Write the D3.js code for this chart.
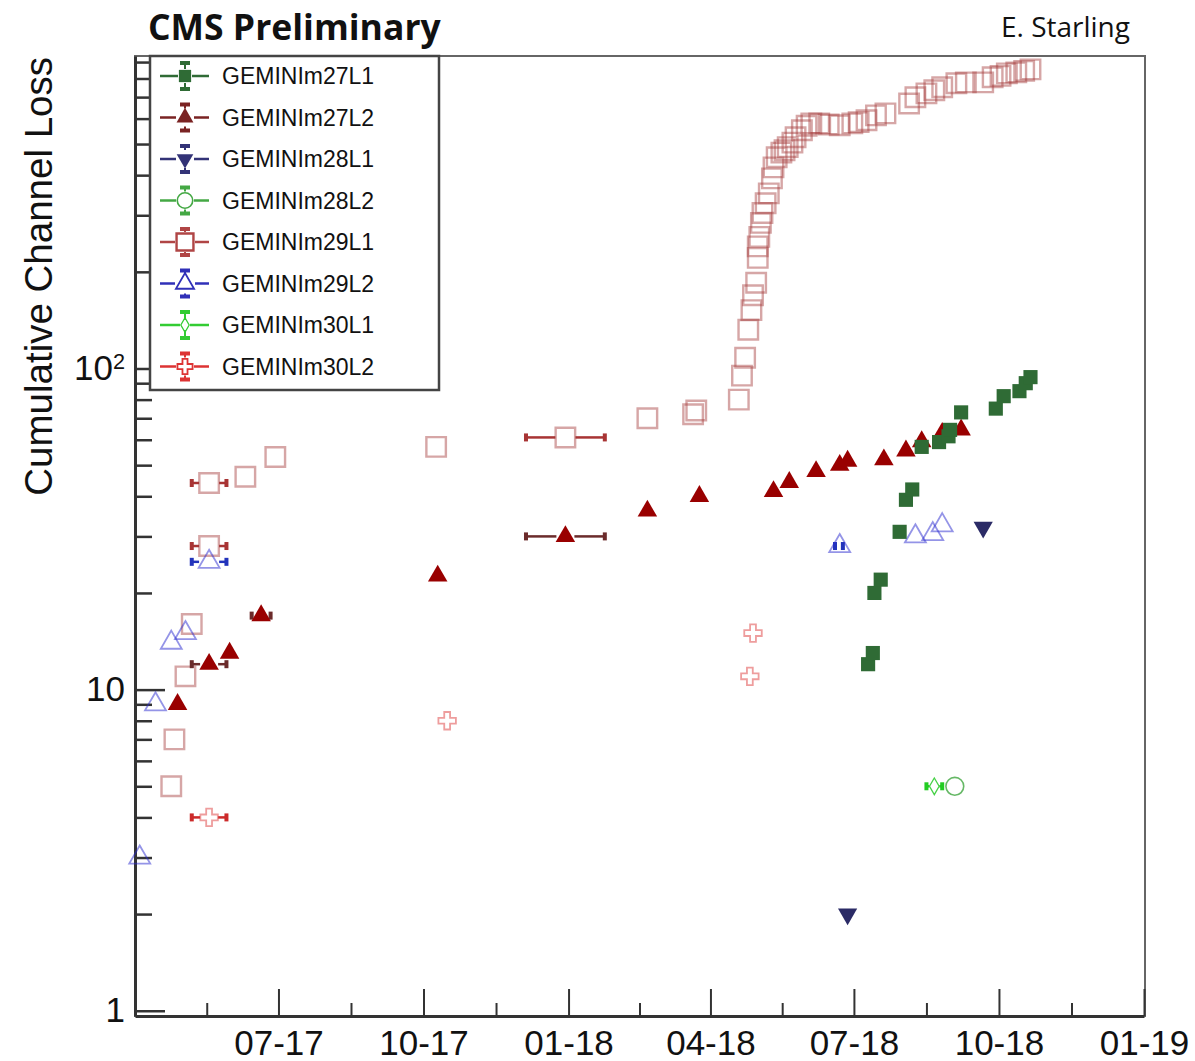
<!DOCTYPE html>
<html>
<head>
<meta charset="utf-8">
<script src="https://cdn.jsdelivr.net/npm/d3@7"></script>
<style>
  body { margin: 0; background: #fff; }
  .chart text { font-family: "Liberation Sans", Arial, sans-serif; fill: #111; }
</style>
</head>
<body>
<div class="chart"></div>
<script>
// series names, as in the legend
const seriesNames = ["GEMINIm27L1", "GEMINIm27L2", "GEMINIm28L1", "GEMINIm28L2",
                     "GEMINIm29L1", "GEMINIm29L2", "GEMINIm30L1", "GEMINIm30L2"];

// [date, cumulative channel loss, optional x-error in days]
const m27L1 = [
  ["2018-07-10", 12], ["2018-07-13", 13], ["2018-07-14", 20], ["2018-07-18", 22],
  ["2018-07-30", 31], ["2018-08-03", 39], ["2018-08-07", 42], ["2018-08-13", 57],
  ["2018-08-24", 59], ["2018-08-30", 61.5], ["2018-08-31", 64.4], ["2018-09-07", 73],
  ["2018-09-29", 75], ["2018-10-04", 82], ["2018-10-14", 85], ["2018-10-18", 90],
  ["2018-10-21", 94]
];
const m27L2 = [
  ["2017-04-28", 9], ["2017-05-18", 12, 11], ["2017-05-31", 13], ["2017-06-20", 17, 6],
  ["2017-10-10", 22.6], ["2017-12-30", 30, 25], ["2018-02-20", 36], ["2018-03-25", 40],
  ["2018-05-11", 41.4], ["2018-05-21", 44.2], ["2018-06-07", 47.8], ["2018-06-22", 50],
  ["2018-06-27", 51.5], ["2018-07-20", 52], ["2018-08-03", 55.4], ["2018-08-13", 59.2],
  ["2018-08-26", 62.9], ["2018-09-07", 64.4]
];
const m28L1 = [["2018-06-27", 2], ["2018-09-21", 32]];
const m28L2 = [["2018-09-03", 5]];
const m29L1 = [
  ["2017-04-24", 5], ["2017-04-26", 7], ["2017-05-03", 11], ["2017-05-07", 16],
  ["2017-05-18", 28, 11], ["2017-05-18", 44, 11], ["2017-06-10", 46], ["2017-06-29", 53],
  ["2017-10-09", 57], ["2017-12-30", 61, 25], ["2018-02-20", 70], ["2018-03-21", 72],
  ["2018-03-23", 74], ["2018-04-19", 80], ["2018-04-21", 95], ["2018-04-23", 108],
  ["2018-04-25", 132], ["2018-04-27", 152], ["2018-04-28", 169], ["2018-04-30", 185],
  ["2018-05-01", 221], ["2018-05-01", 240], ["2018-05-02", 257], ["2018-05-03", 284],
  ["2018-05-04", 305], ["2018-05-06", 327], ["2018-05-08", 351], ["2018-05-10", 391],
  ["2018-05-11", 423], ["2018-05-13", 455], ["2018-05-16", 470], ["2018-05-18", 478],
  ["2018-05-20", 489], ["2018-05-23", 505], ["2018-05-25", 525], ["2018-05-29", 552],
  ["2018-06-01", 570], ["2018-06-04", 580], ["2018-06-09", 580], ["2018-06-15", 575],
  ["2018-06-22", 572], ["2018-06-30", 580], ["2018-07-04", 585], ["2018-07-09", 593],
  ["2018-07-15", 614], ["2018-07-21", 623], ["2018-08-05", 669], ["2018-08-09", 699],
  ["2018-08-16", 719], ["2018-08-21", 735], ["2018-08-26", 751], ["2018-09-04", 773],
  ["2018-09-10", 778], ["2018-09-21", 778], ["2018-09-27", 807], ["2018-10-02", 815],
  ["2018-10-06", 830], ["2018-10-12", 836], ["2018-10-17", 845], ["2018-10-21", 854]
];
const m29L2 = [
  ["2017-04-04", 3], ["2017-04-14", 9], ["2017-04-24", 14], ["2017-05-03", 15],
  ["2017-05-18", 25, 11], ["2018-06-22", 28, 2.5], ["2018-08-09", 30], ["2018-08-20", 30.5],
  ["2018-08-26", 32.5]
];
const m30L1 = [["2018-08-21", 5, 5]];
const m30L2 = [["2017-05-18", 4, 11], ["2017-10-16", 8], ["2018-04-26", 11], ["2018-04-28", 15]];

// axis ticks
const yMajorTicks = [1, 10, 100];
const xTickFormat = "%m-%y";

const width = 1195, height = 1061;
const plotLeft = 135, plotRight = 1144, plotTop = 56, plotBottom = 1016;

const parse = d3.utcParse("%Y-%m-%d");

const x = d3.scaleUtc()
    .domain([new Date(Date.UTC(2017, 3, 1)), new Date(Date.UTC(2019, 0, 1))])
    .range([plotLeft, plotRight]);

const y = d3.scaleLog()
    .domain([0.963, 940])
    .range([plotBottom, plotTop]);

const series = [
  {data: m29L1, shape: d3.symbolSquare, size: 380, half: 10, fill: false, color: "#a33a3a", err: "#a83434", opacity: 0.45, legend: "#b04545", sw: 2.4},
  {data: m29L2, shape: d3.symbolTriangle, size: 190, half: 10, fill: false, color: "#2a2ad0", err: "#2233bb", opacity: 0.5, legend: "#3030b8", sw: 1.8},
  {data: m30L2, shape: d3.symbolCross, size: 170, half: 9, fill: false, color: "#dd3b3b", err: "#cc2a2a", opacity: 0.5, legend: "#dd3333", sw: 1.8},
  {data: m30L1, shape: d3.symbolDiamond, size: 80, half: 5, fill: false, color: "#33cc33", err: "#22cc22", opacity: 0.9, legend: "#33cc33", sw: 1.3},
  {data: m28L2, shape: d3.symbolCircle, size: 250, half: 9, fill: false, color: "#55b055", err: "#44aa44", opacity: 0.9, legend: "#44a844", sw: 1.6},
  {data: m28L1, shape: d3.symbolTriangle, size: 160, half: 9, fill: true, color: "#2b2b66", err: "#2b2b66", opacity: 1, legend: "#333377", sw: 0, down: true},
  {data: m27L2, shape: d3.symbolTriangle, size: 165, half: 9, fill: true, color: "#990000", err: "#6b2b2b", opacity: 1, legend: "#7a2323", sw: 0},
  {data: m27L1, shape: d3.symbolSquare, size: 200, half: 7, fill: true, color: "#2f6b35", err: "#2f6b35", opacity: 1, legend: "#2f6b35", sw: 0}
];
// legend order follows seriesNames
const legendOrder = [7, 6, 5, 4, 0, 1, 3, 2];

const svg = d3.select(".chart").append("svg")
    .attr("width", width)
    .attr("height", height)
    .attr("viewBox", `0 0 ${width} ${height}`);

// frame
svg.append("rect")
    .attr("x", plotLeft).attr("y", plotTop)
    .attr("width", plotRight - plotLeft + 1).attr("height", plotBottom - plotTop)
    .attr("fill", "none")
    .attr("stroke", "#666")
    .attr("stroke-width", 2);

// x axis
const majorX = d3.utcMonths(new Date(Date.UTC(2017, 6, 1)), new Date(Date.UTC(2019, 0, 2)), 3);
const minorX = d3.pairs([x.domain()[0], ...majorX]).map(([a, b]) => new Date((+a + +b) / 2));

svg.append("g")
    .attr("transform", `translate(0,${plotBottom})`)
    .call(d3.axisBottom(x).tickValues(minorX).tickFormat("").tickSize(-13).tickSizeOuter(0))
    .call(g => g.select(".domain").remove())
    .call(g => g.selectAll(".tick line").attr("stroke", "#333").attr("stroke-width", 2));

svg.append("g")
    .attr("transform", `translate(0,${plotBottom})`)
    .call(d3.axisBottom(x).tickValues(majorX).tickFormat(d3.utcFormat(xTickFormat))
        .tickSize(-27).tickSizeOuter(0).tickPadding(14))
    .call(g => g.select(".domain").attr("stroke", "#333").attr("stroke-width", 3))
    .call(g => g.selectAll(".tick line").attr("stroke", "#333").attr("stroke-width", 2))
    .call(g => g.selectAll(".tick text").attr("font-size", 35).attr("font-family", "Liberation Sans"));

// y axis
const yMinor = [];
yMajorTicks.forEach(p => d3.range(2, 10).forEach(k => { if (k * p < 940) yMinor.push(k * p); }));

svg.append("g")
    .attr("transform", `translate(${plotLeft},0)`)
    .call(d3.axisLeft(y).tickValues(yMinor).tickFormat("").tickSize(-17).tickSizeOuter(0))
    .call(g => g.select(".domain").remove())
    .call(g => g.selectAll(".tick line").attr("stroke", "#333").attr("stroke-width", 2.5));

svg.append("g")
    .attr("transform", `translate(${plotLeft},0)`)
    .call(d3.axisLeft(y).tickValues(yMajorTicks).tickFormat(d => d === 100 ? "10" : String(d))
        .tickSize(-30).tickSizeOuter(0).tickPadding(10))
    .call(g => g.select(".domain").attr("stroke", "#333").attr("stroke-width", 3))
    .call(g => g.selectAll(".tick line").attr("stroke", "#333").attr("stroke-width", 2.5))
    .call(g => g.selectAll(".tick text").attr("font-size", 35).attr("font-family", "Liberation Sans"))
    .call(g => g.selectAll(".tick text").filter(d => d === 100)
        .append("tspan").attr("dy", "-0.5em").attr("font-size", "0.62em").text("2"));

// y title
svg.append("text")
    .attr("transform", `translate(52,${plotTop + 1}) rotate(-90)`)
    .attr("text-anchor", "end")
    .attr("font-size", 38.5)
    .text("Cumulative Channel Loss");

// header texts
svg.append("text")
    .attr("x", 148).attr("y", 40)
    .attr("font-weight", 700)
    .attr("font-size", 35.5)
    .style("font-family", "'Open Sans', sans-serif")
    .text("CMS Preliminary");

svg.append("text")
    .attr("x", 1130).attr("y", 37)
    .attr("text-anchor", "end")
    .style("font-family", "'Open Sans', sans-serif")
    .attr("font-size", 28)
    .text("E. Starling");

function marker(sel, s, opacity, color) {
  sel.attr("d", d3.symbol(s.shape, s.size)())
      .attr("fill", s.fill ? color : "none")
      .attr("stroke", s.fill ? "none" : color)
      .attr("stroke-width", s.sw)
      .attr("opacity", opacity);
}

// points
const plot = svg.append("g");
series.forEach(s => {
  const g = plot.append("g");
  const rows = s.data.map(([d, v, e]) => ({date: parse(d), value: v, err: e || 0}));

  // horizontal error bars
  rows.filter(r => r.err > 0).forEach(r => {
    const cx = x(r.date), cy = y(r.value);
    const x0 = x(d3.utcDay.offset(r.date, -r.err)), x1 = x(d3.utcDay.offset(r.date, r.err));
    const eg = g.append("g").attr("stroke", s.err).attr("fill", s.err);
    [[x0, cx - s.half], [cx + s.half, x1]].forEach(([a, b]) => {
      if (b > a) eg.append("line").attr("x1", a).attr("x2", b).attr("y1", cy).attr("y2", cy).attr("stroke-width", 2.5);
    });
    [x0, x1].forEach(xe => eg.append("rect")
        .attr("x", xe - 2).attr("y", cy - 4).attr("width", 4).attr("height", 8).attr("stroke", "none"));
  });

  g.selectAll("path.pt")
    .data(rows)
    .join("path")
      .attr("class", "pt")
      .attr("transform", r => `translate(${x(r.date)},${y(r.value)})${s.down ? " rotate(180)" : ""}`)
      .call(sel => marker(sel, s, s.opacity, s.color));
});

// legend
const legend = svg.append("g");
legend.append("rect")
    .attr("x", 150).attr("y", plotTop)
    .attr("width", 289).attr("height", 334)
    .attr("fill", "#fff")
    .attr("stroke", "#444")
    .attr("stroke-width", 2.5);

seriesNames.forEach((name, i) => {
  const s = series[legendOrder[i]];
  const cy = 76 + i * 41.5, cx = 185;
  const row = legend.append("g");
  [[160, cx - s.half], [cx + s.half, 209]].forEach(([a, b]) => row.append("line")
      .attr("x1", a).attr("x2", b).attr("y1", cy).attr("y2", cy)
      .attr("stroke", s.legend).attr("stroke-width", 2.5));
  [[cy - 13, cy - s.half], [cy + s.half, cy + 13]].forEach(([a, b]) => row.append("line")
      .attr("x1", cx).attr("x2", cx).attr("y1", a).attr("y2", b)
      .attr("stroke", s.legend).attr("stroke-width", 2));
  [cy - 13, cy + 13].forEach(ye => row.append("rect")
      .attr("x", cx - 5).attr("y", ye - 2).attr("width", 10).attr("height", 4)
      .attr("fill", s.legend));
  row.append("path")
      .attr("transform", `translate(${cx},${cy})${s.down ? " rotate(180)" : ""}`)
      .call(sel => marker(sel, Object.assign({}, s, {size: s.size * 0.75}), 1, s.legend));
  row.append("text")
      .attr("x", 222).attr("y", cy + 8)
      .attr("font-size", 23)
      .text(name);
});
</script>
</body>
</html>
